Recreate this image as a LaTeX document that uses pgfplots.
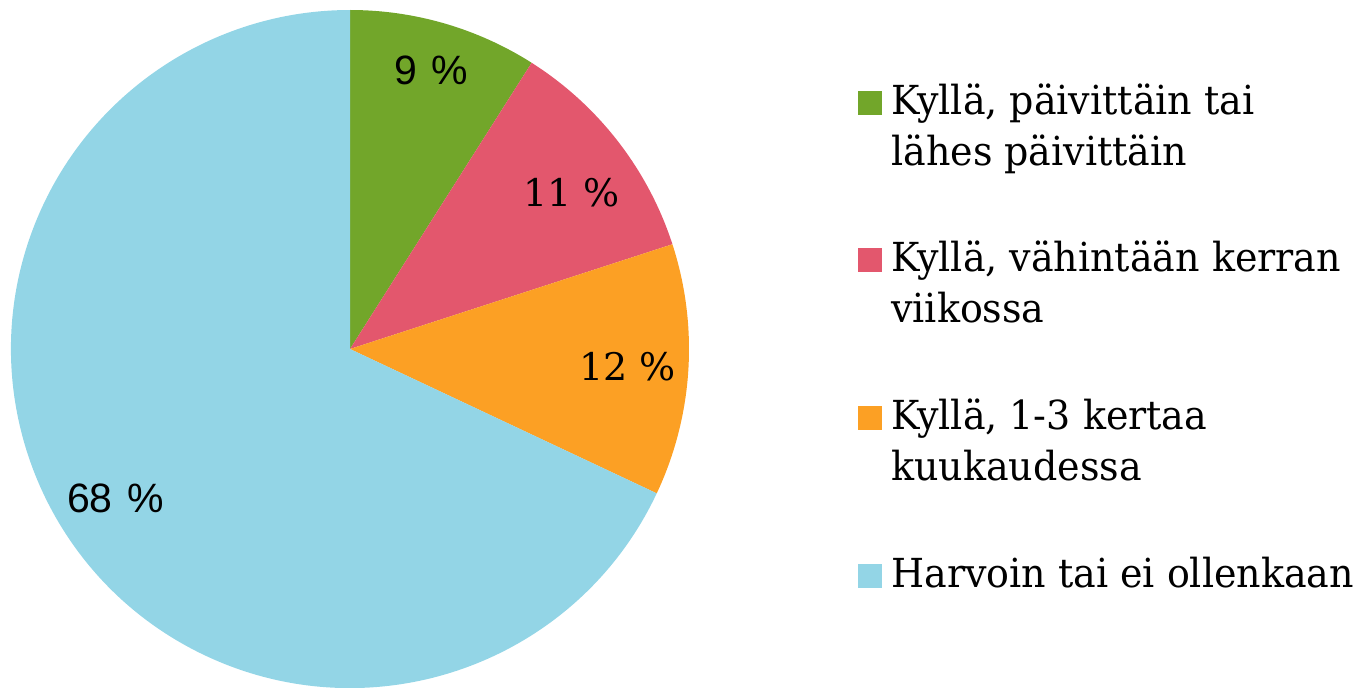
\documentclass[border=0pt]{standalone}
\usepackage{fontspec}
\setmainfont{DejaVu Serif}[FakeStretch=0.95]
\newfontfamily\labserif{DejaVu Serif}
\newfontfamily\labsans{Liberation Sans}
\usepackage{pgfplots}
\usepackage{pgfplotstable}
\pgfplotsset{compat=1.18}
\definecolor{pgreen}{HTML}{72A62A}
\definecolor{pred}{HTML}{E3576D}
\definecolor{porange}{HTML}{FCA024}
\definecolor{pblue}{HTML}{93D5E6}
\pgfplotstableread{
value
9
11
12
68
}\piedata
\begin{document}
\begin{tikzpicture}
\path[use as bounding box] (0,0) rectangle (684pt,343.5pt);
\pgfplotstablegetelem{0}{value}\of\piedata\pgfmathtruncatemacro\vA{\pgfplotsretval}
\pgfplotstablegetelem{1}{value}\of\piedata\pgfmathtruncatemacro\vB{\pgfplotsretval}
\pgfplotstablegetelem{2}{value}\of\piedata\pgfmathtruncatemacro\vC{\pgfplotsretval}
\pgfplotstablegetelem{3}{value}\of\piedata\pgfmathtruncatemacro\vD{\pgfplotsretval}
\pgfmathsetmacro\aA{90}
\pgfmathsetmacro\aB{\aA-3.6*\vA}
\pgfmathsetmacro\aC{\aB-3.6*\vB}
\pgfmathsetmacro\aD{\aC-3.6*\vC}
\pgfmathsetmacro\aE{\aD-3.6*\vD}
\pgfmathsetmacro\mA{(\aA+\aB)/2}
\pgfmathsetmacro\mB{(\aB+\aC)/2}
\pgfmathsetmacro\mC{(\aC+\aD)/2}
\pgfmathsetmacro\mD{(\aD+\aE)/2}
\begin{axis}[at={(175pt,169pt)}, anchor=center, scale only axis,
  width=339pt, height=339pt, xmin=-1, xmax=1, ymin=-1, ymax=1,
  hide axis, clip=false,
  legend style={at={(1.2493,0.8997)}, anchor=north west, draw=none, fill=none,
    inner sep=0pt, row sep=59.5pt, column sep=4.5pt,
    font=\fontsize{20}{25.5}\selectfont, cells={anchor=base west},
    nodes={inner sep=0pt}},
  legend image code/.code={\fill[#1] (0pt,0pt) rectangle (11.5pt,11.5pt);},
]
\addlegendimage{pgreen}
\addlegendentry{\begin{tabular}[t]{@{}l@{}}Kyllä, päivittäin tai\\lähes päivittäin\end{tabular}}
\addlegendimage{pred}
\addlegendentry{\begin{tabular}[t]{@{}l@{}}Kyllä, vähintään kerran\\viikossa\end{tabular}}
\addlegendimage{porange}
\addlegendentry{\begin{tabular}[t]{@{}l@{}}Kyllä, 1-3 kertaa\\kuukaudessa\end{tabular}}
\addlegendimage{pblue}
\addlegendentry{\begin{tabular}[t]{@{}l@{}}Harvoin tai ei ollenkaan\end{tabular}}
\fill[pgreen] (axis cs:0,0) -- (axis cs:{cos(\aA)},{sin(\aA)}) arc[start angle=\aA, end angle=\aB, radius=169.5pt] -- cycle;
\fill[pred] (axis cs:0,0) -- (axis cs:{cos(\aB)},{sin(\aB)}) arc[start angle=\aB, end angle=\aC, radius=169.5pt] -- cycle;
\fill[porange] (axis cs:0,0) -- (axis cs:{cos(\aC)},{sin(\aC)}) arc[start angle=\aC, end angle=\aD, radius=169.5pt] -- cycle;
\fill[pblue] (axis cs:0,0) -- (axis cs:{cos(\aD)},{sin(\aD)}) arc[start angle=\aD, end angle=\aE, radius=169.5pt] -- cycle;
\node[font=\labsans\fontsize{20.5}{24}\selectfont] at (axis cs:{0.855*cos(\mA)},{0.855*sin(\mA)}) {\vA\hspace{0.35em}\%};
\node[font=\labserif\fontsize{19}{23}\selectfont] at (axis cs:{0.80*cos(\mB-2.5)},{0.80*sin(\mB-2.5)}) {\vB~\%};
\node[font=\labserif\fontsize{19}{23}\selectfont] at (axis cs:{0.82*cos(\mC)},{0.82*sin(\mC)}) {\vC~\%};
\node[font=\labsans\fontsize{20.5}{24}\selectfont] at (axis cs:{0.82*cos(\mD)},{0.82*sin(\mD)}) {\vD\hspace{0.35em}\%};
\end{axis}
\end{tikzpicture}
\end{document}
